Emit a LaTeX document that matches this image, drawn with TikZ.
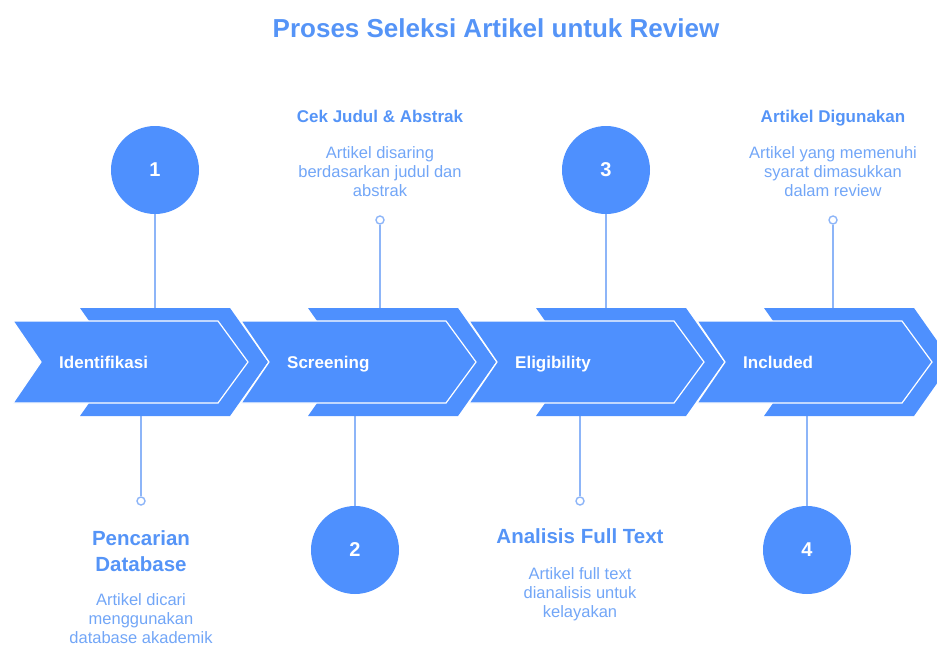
\documentclass[tikz,border=0pt]{standalone}
\usepackage{fontspec}
\setmainfont{Liberation Sans}
\usepackage{xcolor}
\definecolor{stageblue}{HTML}{4E90FE}
\definecolor{headblue}{HTML}{5594F7}
\definecolor{bodyblue}{HTML}{72A6F7}
\definecolor{stemblue}{HTML}{8DB5F8}

\begin{document}
\begin{tikzpicture}[x=1pt,y=-1pt,
  stem/.style={stemblue,line width=1.6pt},
  dot/.style={circle,draw=stemblue,fill=white,line width=1.4pt,minimum size=8pt,inner sep=0pt},
  num/.style={circle,fill=stageblue,minimum size=88pt,inner sep=0pt,text=white,font=\bfseries\fontsize{20}{24}\selectfont},
  stagelabel/.style={anchor=base west,inner sep=0pt,text=white,font=\bfseries\fontsize{17}{20}\selectfont},
  head/.style={anchor=north,align=center,inner sep=0pt,text=headblue,font=\bfseries\fontsize{17}{20}\selectfont},
  bighead/.style={anchor=north,align=center,inner sep=0pt,text=headblue,font=\bfseries\fontsize{20.5}{26.5}\selectfont},
  body/.style={anchor=north,align=center,inner sep=0pt,text=bodyblue,font=\fontsize{16.5}{19}\selectfont}]
\useasboundingbox (0,0) rectangle (937,646);
\clip (0,0) rectangle (937,646);

\node[anchor=base,inner sep=0pt,text=headblue,font=\bfseries\fontsize{26}{30}\selectfont] (title) at (496,37) {Proses Seleksi Artikel untuk Review};

% circles and small dots
\node[num] (c1) at (155,170) {1};
\node[num] (c2) at (355,550) {2};
\node[num] (c3) at (606,170) {3};
\node[num] (c4) at (807,550) {4};
\node[dot] (d1) at (141,501) {};
\node[dot] (d2) at (380,220) {};
\node[dot] (d3) at (580,501) {};
\node[dot] (d4) at (833,220) {};

\coordinate (t1) at (155,310);
\coordinate (t2) at (380,310);
\coordinate (t3) at (606,310);
\coordinate (t4) at (833,310);
\coordinate (b1) at (141,414);
\coordinate (b2) at (355,414);
\coordinate (b3) at (580,414);
\coordinate (b4) at (807,414);

\draw[stem] (c1)--(t1);
\draw[stem] (d2)--(t2);
\draw[stem] (c3)--(t3);
\draw[stem] (d4)--(t4);
\draw[stem] (b1)--(d1);
\draw[stem] (b2)--(c2);
\draw[stem] (b3)--(d3);
\draw[stem] (b4)--(c4);

% stages
\foreach \x/\name [count=\i] in {13/Identifikasi,241/Screening,469/Eligibility,697/Included}{
\fill[stageblue] (\x+67,308)--(\x+217,308)--(\x+255,362)--(\x+217,416)--(\x+67,416)--(\x+105,362)--cycle;
\filldraw[fill=stageblue,draw=white,line width=1.2pt] (\x,321)--(\x+205,321)--(\x+235,362)--(\x+205,403)--(\x,403)--(\x+28,362)--cycle;
\node[stagelabel] (s\i) at (\x+46,368) {\name};
}

% texts
\node[head] (h2) at (380,110) {Cek Judul \& Abstrak};
\node[body] (p2) at (380,146) {Artikel disaring\\berdasarkan judul dan\\abstrak};
\node[head] (h4) at (833,110) {Artikel Digunakan};
\node[body] (p4) at (833,146) {Artikel yang memenuhi\\syarat dimasukkan\\dalam review};
\node[bighead] (h1) at (141,530) {Pencarian\\Database};
\node[body] (p1) at (141,593) {Artikel dicari\\menggunakan\\database akademik};
\node[bighead] (h3) at (580,528) {Analisis Full Text};
\node[body] (p3) at (580,567) {Artikel full text\\dianalisis untuk\\kelayakan};
\end{tikzpicture}
\end{document}
